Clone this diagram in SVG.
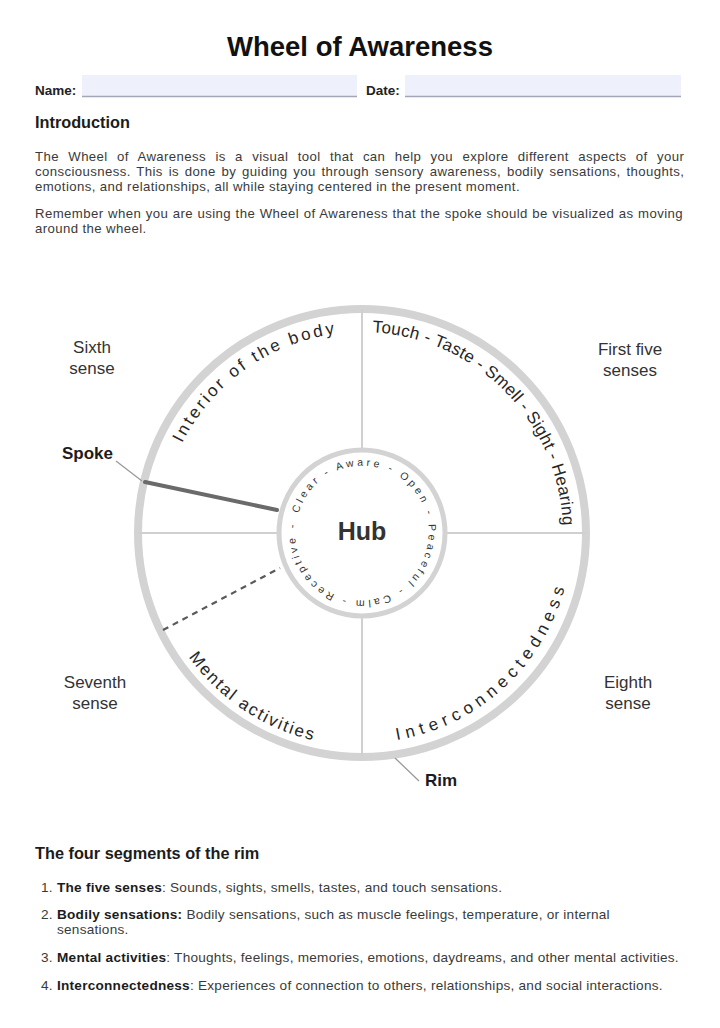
<svg xmlns="http://www.w3.org/2000/svg" width="720" height="1028" viewBox="0 0 720 1028">
<defs>
<style>
text{font-family:"Liberation Sans",Arial,Helvetica,sans-serif;fill:#333}
.b{font-weight:bold}
.title{font-size:27.5px;font-weight:bold;fill:#111;text-anchor:middle}
.lab{font-size:13.5px;font-weight:bold;fill:#222}
.h2{font-size:16.3px;font-weight:bold;fill:#1c1c1c}
.p{font-size:13.2px;fill:#3a3a3a;letter-spacing:0.4px}
.li{font-size:13.6px;fill:#3a3a3a;letter-spacing:0.25px}
.lb{font-weight:bold;fill:#1c1c1c}
.field{fill:#eef0fb}
.fline{stroke:#a3a5b8;stroke-width:1.5}
.side{font-size:17px;fill:#333;text-anchor:middle}
.sideb{font-size:17px;font-weight:bold;fill:#1c1c1c}
.arc{font-size:17px;fill:#262626}
.hubt{font-size:10.5px;fill:#333;letter-spacing:3.2px}
.div{stroke:#d0d0d0;stroke-width:2;fill:none}
.rim{stroke:#d3d3d3;stroke-width:8;fill:none}
.hubc{stroke:#d3d3d3;stroke-width:5;fill:#fff}
.spoke{stroke:#6a6a6a;stroke-width:4;stroke-linecap:round}
.dash{stroke:#5a5a5a;stroke-width:2.2;stroke-dasharray:6 5}
.ptr{stroke:#9a9a9a;stroke-width:1.3}
</style>
<path id="upArc" d="M173.1,601.7 A201,201 0 1 1 550.9,601.7" fill="none"/>
<path id="mentalArc" d="M161.84,460.15 A213,213 0 1 0 562.16,460.15" fill="none"/>
<path id="interArc" d="M164.66,461.18 A210,210 0 1 0 559.34,461.18" fill="none"/>
<path id="hubArc" d="M298.41,513.56 A66.5,66.5 0 1 1 425.59,552.44 A66.5,66.5 0 1 1 298.41,513.56" fill="none"/>
</defs>
<rect width="720" height="1028" fill="#fff"/>

<g id="header">
<text class="title" x="360" y="56">Wheel of Awareness</text>
<text class="lab" x="35" y="95">Name:</text>
<rect class="field" x="82" y="75" width="275" height="22"/>
<line class="fline" x1="82" y1="96.5" x2="357" y2="96.5"/>
<text class="lab" x="366" y="95">Date:</text>
<rect class="field" x="405" y="75" width="276" height="22"/>
<line class="fline" x1="405" y1="96.5" x2="681" y2="96.5"/>
</g>

<g id="intro">
<text class="h2" x="35" y="128">Introduction</text>
<text class="p" x="35" y="161" style="word-spacing:5.3px">The Wheel of Awareness is a visual tool that can help you explore different aspects of your</text>
<text class="p" x="35" y="176" style="word-spacing:1.75px">consciousness. This is done by guiding you through sensory awareness, bodily sensations, thoughts,</text>
<text class="p" x="35" y="191">emotions, and relationships, all while staying centered in the present moment.</text>
<text class="p" x="35" y="217.5" style="word-spacing:0.5px">Remember when you are using the Wheel of Awareness that the spoke should be visualized as moving</text>
<text class="p" x="35" y="233">around the wheel.</text>
</g>

<g id="wheel">
<g id="rim">
<circle class="rim" cx="362" cy="533" r="224"/>
</g>
<g id="segments">
<line class="div" x1="362" y1="309" x2="362" y2="448"/>
<line class="div" x1="362" y1="618" x2="362" y2="757"/>
<line class="div" x1="138" y1="533" x2="277" y2="533"/>
<line class="div" x1="447" y1="533" x2="586" y2="533"/>
</g>
<g id="seg-interior">
<text class="arc" style="letter-spacing:2.8px"><textPath href="#upArc" startOffset="262" text-anchor="middle">Interior of the body</textPath></text>
</g>
<g id="seg-senses">
<text class="arc" style="letter-spacing:0.28px"><textPath href="#upArc" startOffset="545" text-anchor="middle">Touch - Taste - Smell - Sight - Hearing</textPath></text>
</g>
<g id="seg-mental">
<text class="arc" style="letter-spacing:1.95px"><textPath href="#mentalArc" startOffset="283.5" text-anchor="middle">Mental activities</textPath></text>
</g>
<g id="seg-inter">
<text class="arc" style="letter-spacing:5.3px"><textPath href="#interArc" startOffset="560" text-anchor="middle">Interconnectedness</textPath></text>
</g>
<g id="hub">
<circle class="hubc" cx="362" cy="533" r="83"/>
<text class="hubt"><textPath href="#hubArc" startOffset="0">Clear - Aware - Open - Peaceful - Calm - Receptive -</textPath></text>
<text x="362" y="540" font-size="25" font-weight="bold" fill="#111" text-anchor="middle">Hub</text>
</g>
</g>

<g id="connectors">
<line class="spoke" x1="145" y1="482" x2="277" y2="510"/>
<line class="dash" x1="163" y1="630" x2="280" y2="568"/>
<line class="ptr" x1="116" y1="461" x2="142" y2="481"/>
<line class="ptr" x1="395" y1="758" x2="419" y2="781"/>
</g>

<g id="label-sixth"><text class="side" x="92" y="353">Sixth</text><text class="side" x="92" y="374">sense</text></g>
<g id="label-first"><text class="side" x="630" y="355">First five</text><text class="side" x="630" y="376">senses</text></g>
<g id="label-seventh"><text class="side" x="95" y="688">Seventh</text><text class="side" x="95" y="709">sense</text></g>
<g id="label-eighth"><text class="side" x="628" y="688">Eighth</text><text class="side" x="628" y="709">sense</text></g>
<g id="label-spoke"><text class="sideb" x="62" y="459">Spoke</text></g>
<g id="label-rim"><text class="sideb" x="425" y="786">Rim</text></g>

<g id="list">
<text class="h2" x="35" y="858.5">The four segments of the rim</text>
<text class="li" x="41" y="891.5">1.</text>
<text class="li" x="57" y="891.5"><tspan class="lb">The five senses</tspan>: Sounds, sights, smells, tastes, and touch sensations.</text>
<text class="li" x="41" y="919">2.</text>
<text class="li" x="57" y="919"><tspan class="lb">Bodily sensations:</tspan> Bodily sensations, such as muscle feelings, temperature, or internal</text>
<text class="li" x="57" y="934">sensations.</text>
<text class="li" x="41" y="962">3.</text>
<text class="li" x="57" y="962"><tspan class="lb">Mental activities</tspan>: Thoughts, feelings, memories, emotions, daydreams, and other mental activities.</text>
<text class="li" x="41" y="990">4.</text>
<text class="li" x="57" y="990"><tspan class="lb">Interconnectedness</tspan>: Experiences of connection to others, relationships, and social interactions.</text>
</g>
</svg>
